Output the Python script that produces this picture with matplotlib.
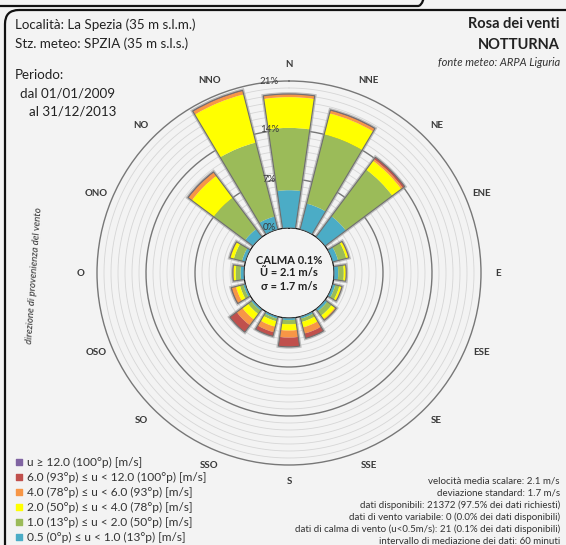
import numpy as np
import matplotlib.pyplot as plt
from matplotlib.patches import FancyBboxPatch, Circle

plt.rcParams['font.family'] = ['Lato', 'DejaVu Sans']

# direzioni (N in senso orario)
direzioni = ['N', 'NNE', 'NE', 'ENE', 'E', 'ESE', 'SE', 'SSE',
             'S', 'SSO', 'SO', 'OSO', 'O', 'ONO', 'NO', 'NNO']

# frequenze [%] per classe di velocita'
cl_05_10 = [5.4, 3.8, 3.7, 0.8, 0.6, 0.4, 0.4, 0.3, 0.3, 0.3, 0.3, 0.3, 0.5, 0.5, 1.4, 1.9]
cl_10_20 = [8.9, 10.2, 8.3, 1.2, 0.8, 0.6, 0.8, 0.5, 0.6, 0.4, 0.6, 0.5, 0.7, 1.2, 5.6, 10.9]
cl_20_40 = [4.4, 3.1, 1.6, 0.3, 0.3, 0.3, 0.6, 0.8, 0.9, 0.8, 1.0, 0.6, 0.3, 0.5, 3.9, 7.1]
cl_40_60 = [0.4, 0.4, 0.3, 0.1, 0.05, 0.1, 0.2, 0.9, 1.0, 0.8, 1.0, 0.6, 0.1, 0.1, 0.6, 0.5]
cl_60_120 = [0.05, 0.1, 0.3, 0.0, 0.0, 0.0, 0.0, 0.7, 1.3, 0.6, 1.2, 0.1, 0.0, 0.0, 0.1, 0.1]
cl_120 = [0.0, 0.0, 0.0, 0.0, 0.0, 0.0, 0.0, 0.0, 0.02, 0.0, 0.02, 0.0, 0.0, 0.0, 0.0, 0.0]

classi = [cl_05_10, cl_10_20, cl_20_40, cl_40_60, cl_60_120, cl_120]
colori = ['#4BACC6', '#9BBB59', '#FFFF00', '#F79646', '#C0504D', '#8064A2']
etichette = ['u \u2265 12.0 (100\u00b0p) [m/s]',
             '6.0 (93\u00b0p) \u2264 u < 12.0 (100\u00b0p) [m/s]',
             '4.0 (78\u00b0p) \u2264 u < 6.0 (93\u00b0p) [m/s]',
             '2.0 (50\u00b0p) \u2264 u < 4.0 (78\u00b0p) [m/s]',
             '1.0 (13\u00b0p) \u2264 u < 2.0 (50\u00b0p) [m/s]',
             '0.5 (0\u00b0p) \u2264 u < 1.0 (13\u00b0p) [m/s]']
anelli = [0, 7, 14, 21]

info = ['velocit\u00e0 media scalare: 2.1 m/s',
        'deviazione standard: 1.7 m/s',
        'dati disponibili: 21372 (97.5% dei dati richiesti)',
        'dati di vento variabile: 0 (0.0% dei dati disponibili)',
        'dati di calma di vento (u<0.5m/s): 21 (0.1% dei dati disponibili)',
        'intervallo di mediazione dei dati: 60 minuti']

W, H = 566, 545
fig = plt.figure(figsize=(W / 100, H / 100), dpi=100)
fig.patch.set_facecolor('#f3f3f3')

# livello di sfondo in pixel per testi e cornici
bg = fig.add_axes([0, 0, 1, 1])
bg.set_xlim(0, W)
bg.set_ylim(H, 0)
bg.axis('off')
bg.add_patch(FancyBboxPatch((5, 10), 700, 700, boxstyle='round,pad=0,rounding_size=14',
                            fc='none', ec='#111111', lw=1.6))
bg.add_patch(FancyBboxPatch((-60, -100), 490, 106, boxstyle='round,pad=0,rounding_size=12',
                            fc='none', ec='#111111', lw=1.6))

cx, cy, r0, rmax = 289, 273, 45, 192
ax = fig.add_axes([(cx - rmax) / W, (H - cy - rmax) / H, 2 * rmax / W, 2 * rmax / H],
                  projection='polar')
ax.set_facecolor('none')
ax.set_theta_zero_location('N')
ax.set_theta_direction(-1)
ax.set_rorigin(-r0 / (rmax - r0) * 21)
ax.set_ylim(0, 21)
ax.grid(False)
ax.set_xticks([])
ax.set_yticks([])
ax.spines['polar'].set_color('#777777')
ax.spines['polar'].set_linewidth(1.0)

tt = np.linspace(0, 2 * np.pi, 400)
for r in range(1, 21):
    if r in anelli:
        ax.plot(tt, [r] * len(tt), color='#777777', lw=1.0, zorder=1)
    else:
        ax.plot(tt, [r] * len(tt), color='#d6d6d6', lw=0.6, zorder=1)

ax.add_patch(Circle((0.5, 0.5), r0 / (2 * rmax), transform=ax.transAxes,
                    fc='white', ec='none', zorder=1.5))

theta = np.deg2rad(np.arange(len(direzioni)) * 22.5)
width = np.deg2rad(16.5)
totale = np.sum(classi, axis=0)
ax.bar(theta, totale, width=width, bottom=0, color='none', ec='#999999', lw=2.6,
       alpha=0.6, zorder=2)
base = np.zeros(len(direzioni))
for valori, col in zip(classi, colori):
    ax.bar(theta, valori, width=width, bottom=base, color=col, ec='none', zorder=3)
    base = base + np.array(valori)
ax.bar(theta, totale, width=width, bottom=0, color='none', ec='#6f6f6f', lw=0.8, zorder=4)

for d, t in zip(direzioni, theta):
    ax.text(t, 23.4, d, ha='center', va='center', fontsize=7, fontweight='bold',
            color='#3a3a3a', clip_on=False)
for a in anelli:
    ax.annotate(f'{a}%', xy=(0, a), xytext=(-14, 0), textcoords='offset points',
                ha='center', va='center', fontsize=7, color='#3a3a3a', zorder=5,
                annotation_clip=False)

# testi al centro
bg.text(cx, 261, 'CALMA 0.1%', ha='center', va='center', fontsize=8, fontweight='bold', color='#222222')
bg.text(cx, 273, '\u0168 = 2.1 m/s', ha='center', va='center', fontsize=8, fontweight='bold', color='#222222')
bg.text(cx, 286, '\u03c3 = 1.7 m/s', ha='center', va='center', fontsize=8, fontweight='bold', color='#222222')

# intestazione
bg.text(15, 25, 'Localit\u00e0: La Spezia (35 m s.l.m.)', ha='left', va='center', fontsize=9.6, color='#222222')
bg.text(15, 44, 'Stz. meteo: SPZIA (35 m s.l.s.)', ha='left', va='center', fontsize=9.6, color='#222222')
bg.text(15, 75, 'Periodo:', ha='left', va='center', fontsize=9.6, color='#222222')
bg.text(20, 94, 'dal 01/01/2009', ha='left', va='center', fontsize=9.6, color='#222222')
bg.text(29, 112, 'al 31/12/2013', ha='left', va='center', fontsize=9.6, color='#222222')
bg.text(560, 24, 'Rosa dei venti', ha='right', va='center', fontsize=10.5, fontweight='bold', color='#222222')
bg.text(560, 45, 'NOTTURNA', ha='right', va='center', fontsize=10.5, fontweight='bold', color='#222222')
bg.text(560, 63, 'fonte meteo: ARPA Liguria', ha='right', va='center', fontsize=8, style='italic', color='#333333')
bg.text(34, 275, 'direzione di provenienza del vento', ha='center', va='center', fontsize=7,
        style='italic', rotation=86, color='#333333')

# legenda e informazioni
for i, (lab, col) in enumerate(zip(etichette, colori[::-1])):
    y = 462 + i * 15
    bg.scatter([19], [y], marker='s', s=24, color=col, zorder=3)
    bg.text(27, y, lab, ha='left', va='center', fontsize=8.6, color='#333333')
for i, s in enumerate(info):
    bg.text(560, 481 + i * 12, s, ha='right', va='center', fontsize=7, color='#333333')

fig.savefig('out.png', dpi=100, facecolor=fig.get_facecolor())
